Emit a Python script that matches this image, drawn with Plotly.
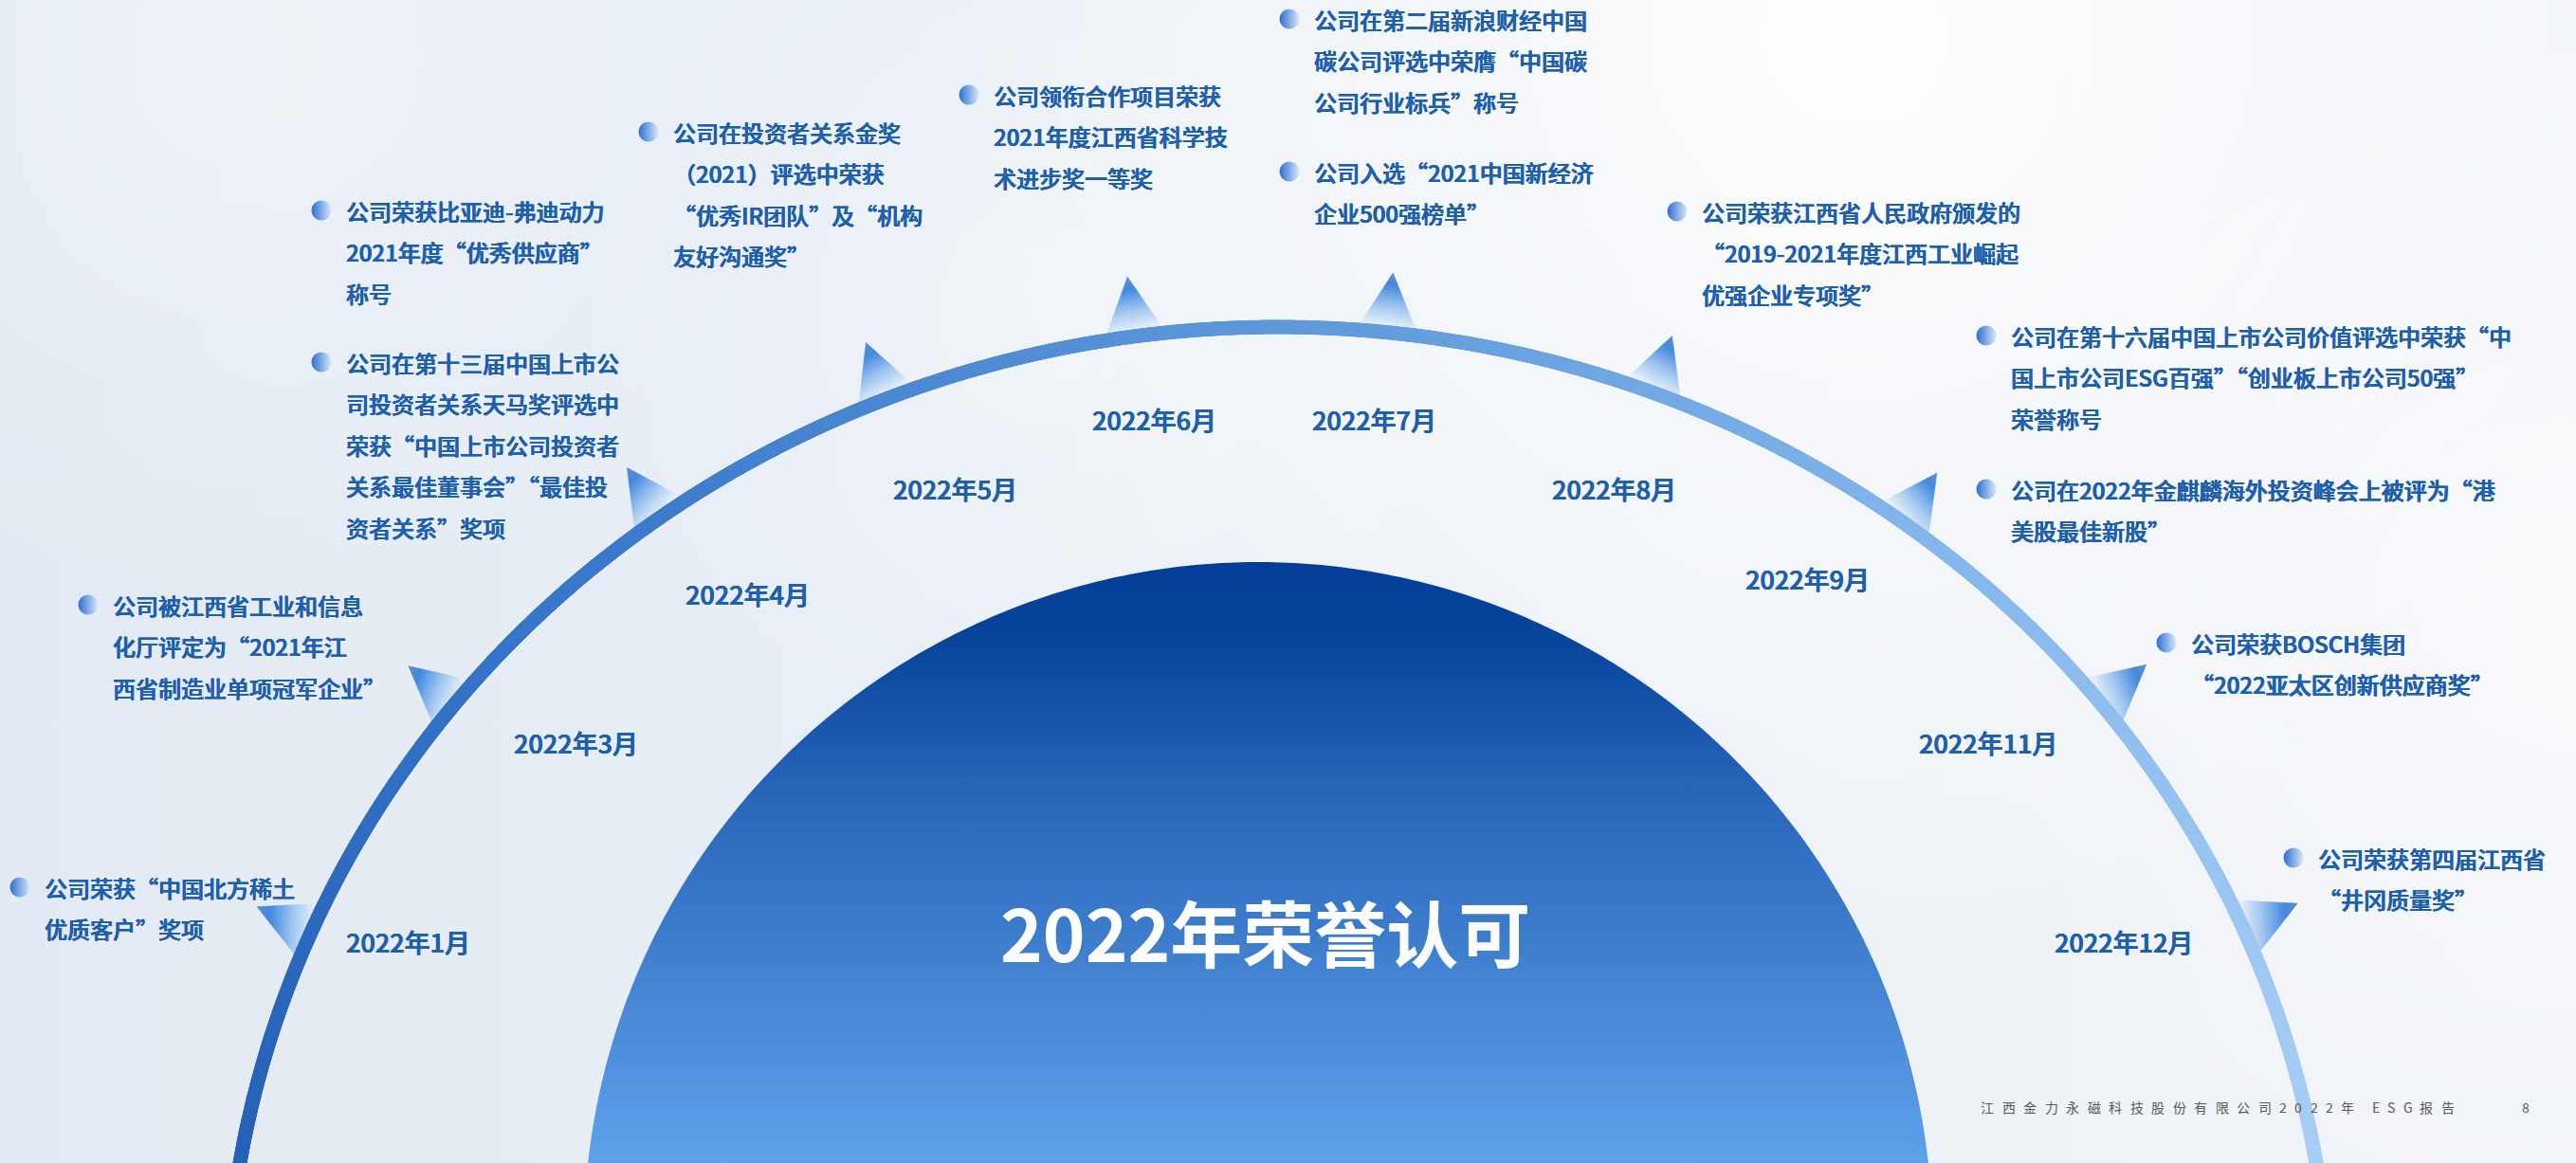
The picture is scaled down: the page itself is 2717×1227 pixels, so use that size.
import numpy as np
import plotly.graph_objects as go

W, H = 2717, 1227
FONT = "Noto Sans CJK SC"
TEXT_BLUE = "#1e5fae"
THICKEN = "0.45px 0 0 #1e5fae, -0.35px 0 0 #1e5fae, 0 0.35px 0 #1e5fae"

# ---------------- data ----------------
months = ["2022年1月", "2022年3月", "2022年4月", "2022年5月", "2022年6月",
          "2022年7月", "2022年8月", "2022年9月", "2022年11月", "2022年12月"]
# position of each month marker along the arc (degrees, 180 = left end, 0 = right end)
marker_angle_deg = [156.7, 141.5, 125.9, 111.8, 97.8, 84.05, 69.2, 53.6, 38.6, 23.5]
month_label_x = [430, 607, 788, 1007, 1217, 1449, 1702, 1906, 2097, 2240]
month_label_y = [993, 783, 626, 515, 442, 442, 515, 610, 783, 993]

award_lines = [
    ["公司荣获“中国北方稀土", "优质客户”奖项"],
    ["公司被江西省工业和信息", "化厅评定为“2021年江", "西省制造业单项冠军企业”"],
    ["公司荣获比亚迪-弗迪动力", "2021年度“优秀供应商”", "称号"],
    ["公司在第十三届中国上市公", "司投资者关系天马奖评选中", "荣获“中国上市公司投资者",
     "关系最佳董事会”“最佳投", "资者关系”奖项"],
    ["公司在投资者关系金奖", "（2021）评选中荣获", "“优秀IR团队”及“机构", "友好沟通奖”"],
    ["公司领衔合作项目荣获", "2021年度江西省科学技", "术进步奖一等奖"],
    ["公司在第二届新浪财经中国", "碳公司评选中荣膺“中国碳", "公司行业标兵”称号"],
    ["公司入选“2021中国新经济", "企业500强榜单”"],
    ["公司荣获江西省人民政府颁发的", "“2019-2021年度江西工业崛起", "优强企业专项奖”"],
    ["公司在第十六届中国上市公司价值评选中荣获“中", "国上市公司ESG百强”“创业板上市公司50强”", "荣誉称号"],
    ["公司在2022年金麒麟海外投资峰会上被评为“港", "美股最佳新股”"],
    ["公司荣获BOSCH集团", "“2022亚太区创新供应商奖”"],
    ["公司荣获第四届江西省", "“井冈质量奖”"],
]
award_bullet_x = [21, 93, 339, 339, 684, 1022, 1360, 1360, 1769, 2095, 2095, 2285, 2419]
award_bullet_y = [936, 638, 222, 382, 139, 100, 20, 181, 223, 354, 516, 678, 905]

title_text = "2022年荣誉认可"
footer_text = "江西金力永磁科技股份有限公司2022年 ESG报告"
page_number = "8"

# ---------------- layout geometry / styles ----------------
ARC_CX, ARC_CY, ARC_A, ARC_B = 1348.0, 1400.0, 1110.0, 1055.0
ARC_WIDTH = 15
DOME_CX, DOME_CY, DOME_R = 1327.0, 1304.0, 711.0
LINE_H = 43.5
TEXT_OFFSET = 24


def lerp_color(stops, u):
    u = min(max(u, 0.0), 1.0)
    for (p0, c0), (p1, c1) in zip(stops[:-1], stops[1:]):
        if u <= p1:
            f = 0 if p1 == p0 else (u - p0) / (p1 - p0)
            c = [round(c0[i] + (c1[i] - c0[i]) * f) for i in range(3)]
            return "rgb(%d,%d,%d)" % tuple(c)
    return "rgb(%d,%d,%d)" % tuple(stops[-1][1])


def arc_point(tdeg):
    t = np.radians(tdeg)
    return np.array([ARC_CX + ARC_A * np.cos(t), ARC_CY - ARC_B * np.sin(t)])


def arc_normal(p):
    n = np.array([(p[0] - ARC_CX) / ARC_A ** 2, (p[1] - ARC_CY) / ARC_B ** 2])
    return n / np.linalg.norm(n)


def clip_halfplane(poly, d, c, keep_ge):
    out = []
    m = len(poly)
    for i in range(m):
        P, Q = poly[i], poly[(i + 1) % m]
        fp, fq = np.dot(P, d) - c, np.dot(Q, d) - c
        inP = fp >= 0 if keep_ge else fp <= 0
        inQ = fq >= 0 if keep_ge else fq <= 0
        if inP:
            out.append(P)
        if inP != inQ:
            s = fp / (fp - fq)
            out.append(P + (Q - P) * s)
    return out


fig = go.Figure()

# background
fig.add_trace(go.Scatter(
    x=[0, W, W, 0, 0], y=[0, 0, H, H, 0], mode="none", fill="toself",
    fillgradient=dict(type="horizontal",
                      colorscale=[[0, "#e3eaf3"], [0.45, "#eaf0f6"], [1, "#f1f4f8"]]),
    hoverinfo="skip", showlegend=False))

glows = [(1950, 40, 950, 0.9), (2717, 650, 650, 0.55), (250, 60, 600, 0.35), (1100, 330, 500, 0.3)]
th = np.linspace(0, 2 * np.pi, 120)
for gx, gy, gr, ga in glows:
    fig.add_trace(go.Scatter(
        x=gx + gr * np.cos(th), y=gy + gr * np.sin(th), mode="none", fill="toself",
        fillgradient=dict(type="radial",
                          colorscale=[[0, "rgba(255,255,255,%.2f)" % ga],
                                      [0.5, "rgba(255,255,255,%.2f)" % (ga * 0.45)],
                                      [1, "rgba(255,255,255,0)"]]),
        hoverinfo="skip", showlegend=False))

# triangles (gradient bands)
tri_stops = [(0.0, (96, 140, 200)), (0.22, (64, 136, 222)), (0.6, (160, 198, 240)), (1.0, (242, 247, 252))]
NB = 22
band_x = [[] for _ in range(NB + 1)]
band_y = [[] for _ in range(NB + 1)]
for tdeg in marker_angle_deg:
    P = arc_point(tdeg)
    n = arc_normal(P)
    tg = np.array([-n[1], n[0]])
    B = P + n * 3
    A = B + n * 60
    C1, C2 = B + tg * 31, B - tg * 31
    up, low = (C1, C2) if C1[1] < C2[1] else (C2, C1)
    s = 0.85 * abs(np.cos(np.radians(tdeg)))
    T = B + s * (up - B)
    d = (T - A) / np.linalg.norm(T - A)
    L = np.linalg.norm(T - A)
    poly = [A, C1, C2]
    for k in range(NB + 1):
        u0 = k / NB * L + np.dot(A, d)
        u1 = (k + 1) / NB * L + np.dot(A, d) if k < NB else 1e9
        pc = clip_halfplane(poly, d, u0, True)
        if len(pc) >= 3:
            pc = clip_halfplane(pc, d, u1, False)
        if len(pc) >= 3:
            band_x[k] += [p[0] for p in pc] + [pc[0][0], None]
            band_y[k] += [p[1] for p in pc] + [pc[0][1], None]
for k in range(NB + 1):
    if band_x[k]:
        fig.add_trace(go.Scatter(
            x=band_x[k], y=band_y[k], mode="lines", fill="toself",
            fillcolor=lerp_color(tri_stops, (k + 0.5) / NB),
            line=dict(width=0.6, color=lerp_color(tri_stops, (k + 0.5) / NB)),
            hoverinfo="skip", showlegend=False))

# the arc (gradient via dense markers)
t_arc = np.linspace(172, 8, 2000)
pts = np.array([arc_point(t) for t in t_arc])
fig.add_trace(go.Scatter(
    x=pts[:, 0], y=pts[:, 1], mode="markers",
    marker=dict(size=ARC_WIDTH, color=(172 - t_arc) / 164.0, cmin=0, cmax=1,
                colorscale=[[0, "#2461b6"], [0.25, "#3a78ca"], [0.5, "#5e98da"],
                            [0.75, "#86b8ec"], [1, "#aacff5"]],
                line=dict(width=0)),
    hoverinfo="skip", showlegend=False))

# dome (colorscale runs bottom -> top on the reversed axis)
yb = 1232
th0 = np.degrees(np.arcsin((DOME_CY - yb) / DOME_R))
thd = np.radians(np.linspace(th0, 180 - th0, 300))
dx = DOME_CX + DOME_R * np.cos(thd)
dy = DOME_CY - DOME_R * np.sin(thd)
fig.add_trace(go.Scatter(
    x=list(dx) + [dx[0]], y=list(dy) + [dy[0]], mode="none", fill="toself",
    fillgradient=dict(type="vertical",
                      colorscale=[[0, "#5ea3ec"], [0.13, "#5495e0"], [0.6, "#2a68bb"],
                                  [0.88, "#06449c"], [1, "#023e97"]]),
    hoverinfo="skip", showlegend=False))

# bullets
fig.add_trace(go.Scatter(
    x=award_bullet_x, y=award_bullet_y, mode="markers",
    marker=dict(size=21, color="#2d6ecf", gradient=dict(type="horizontal", color="#d6e8fb"),
                line=dict(width=0)),
    hoverinfo="skip", showlegend=False))

annotations = []
for lines, bx, by in zip(award_lines, award_bullet_x, award_bullet_y):
    for i, ln in enumerate(lines):
        annotations.append(dict(
            x=bx + TEXT_OFFSET, y=by + i * LINE_H, text=ln, showarrow=False,
            xanchor="left", yanchor="middle",
            font=dict(family=FONT, size=24, color=TEXT_BLUE, weight=500, shadow=THICKEN)))

for m, mx, my in zip(months, month_label_x, month_label_y):
    annotations.append(dict(
        x=mx, y=my, text=m, showarrow=False, xanchor="center", yanchor="middle",
        font=dict(family=FONT, size=27, color=TEXT_BLUE, weight=500, shadow=THICKEN)))

annotations.append(dict(
    x=1334, y=982, text=title_text, showarrow=False, xanchor="center", yanchor="middle",
    font=dict(family=FONT, size=76, color="white", weight="bold")))

# footer with letter spacing
fs, spacing = 14, 8.5
fx = 2087.0
for ch in footer_text:
    if ch == " ":
        fx += 10
        continue
    annotations.append(dict(
        x=fx, y=1168, text=ch, showarrow=False, xanchor="left", yanchor="middle",
        font=dict(family=FONT, size=fs, color="#595959")))
    if ch.isdigit():
        w = 0.554 * fs
    elif ch.isascii():
        w = 0.6 * fs
    else:
        w = fs
    fx += w + spacing
annotations.append(dict(
    x=2664, y=1168, text=page_number, showarrow=False, xanchor="center", yanchor="middle",
    font=dict(family=FONT, size=fs, color="#595959")))

fig.update_layout(
    width=W, height=H, margin=dict(l=0, r=0, t=0, b=0),
    paper_bgcolor="#edf2f8", plot_bgcolor="#edf2f8",
    xaxis=dict(range=[0, W], visible=False, fixedrange=True),
    yaxis=dict(range=[H, 0], visible=False, fixedrange=True),
    showlegend=False, hovermode=False, annotations=annotations)

fig.write_html("out.html", config={"displayModeBar": False},
               post_script="document.body.style.margin='0px';document.body.style.overflow='hidden';")
